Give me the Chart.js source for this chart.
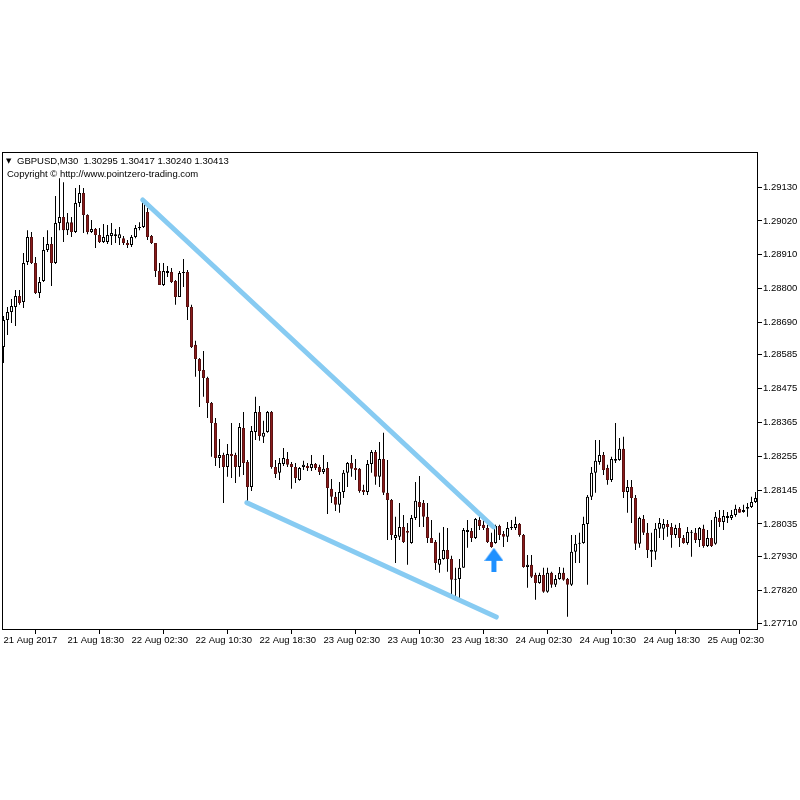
<!DOCTYPE html>
<html><head><meta charset="utf-8">
<script src="https://cdn.jsdelivr.net/npm/chart.js@4.4.1/dist/chart.umd.min.js"></script>
<style>html,body{margin:0;padding:0;background:#fff}canvas{display:block}</style>
</head><body>
<canvas id="c" width="800" height="800"></canvas>
<script>
const xTickLabels = ["21 Aug 2017","21 Aug 18:30","22 Aug 02:30","22 Aug 10:30","22 Aug 18:30","23 Aug 02:30","23 Aug 10:30","23 Aug 18:30","24 Aug 02:30","24 Aug 10:30","24 Aug 18:30","25 Aug 02:30"];
const barsPerXTick = 16;
const yTickValues = [1.29130,1.29020,1.28910,1.28800,1.28690,1.28585,1.28475,1.28365,1.28255,1.28145,1.28035,1.27930,1.27820,1.27710];

const open = [1.28610,1.28698,1.28724,1.28740,1.28776,1.28756,1.28886,1.28968,1.28883,1.28786,
1.28825,1.28925,1.28945,1.28883,1.29013,1.29033,1.28990,1.29016,1.28984,1.29078,
1.29111,1.29039,1.28984,1.28994,1.28974,1.28951,1.28951,1.28971,1.28971,1.28964,
1.28964,1.28948,1.28942,1.28968,1.28997,1.29000,1.29049,1.28971,1.28948,1.28857,
1.28812,1.28851,1.28854,1.28825,1.28773,1.28851,1.28854,1.28740,1.28617,1.28571,
1.28535,1.28509,1.28428,1.28363,1.28249,1.28259,1.28220,1.28262,1.28259,1.28220,
1.28347,1.28236,1.28155,1.28334,1.28399,1.28318,1.28334,1.28399,1.28220,1.28201,
1.28230,1.28246,1.28230,1.28220,1.28178,1.28220,1.28223,1.28217,1.28230,1.28220,
1.28204,1.28217,1.28149,1.28123,1.28097,1.28139,1.28201,1.28233,1.28217,1.28214,
1.28145,1.28139,1.28230,1.28269,1.28188,1.28246,1.28136,1.28113,1.27989,1.27993,
1.28025,1.28012,1.27973,1.28054,1.28106,1.28103,1.28058,1.27989,1.27976,1.27902,
1.27921,1.27950,1.27921,1.27853,1.27856,1.27892,1.28009,1.28012,1.27989,1.28048,
1.28032,1.28022,1.27976,1.27973,1.28028,1.28002,1.27993,1.28022,1.28022,1.28035,
1.27999,1.27895,1.27902,1.27869,1.27843,1.27869,1.27814,1.27876,1.27837,1.27856,
1.27876,1.27856,1.27837,1.27944,1.27970,1.27973,1.28035,1.28123,1.28201,1.28236,
1.28259,1.28217,1.28178,1.28240,1.28243,1.28279,1.28139,1.28155,1.28119,1.27970,
1.28051,1.28006,1.27944,1.27944,1.28019,1.28019,1.28035,1.28025,1.27999,1.28022,
1.27989,1.27973,1.28006,1.28006,1.27983,1.28019,1.27963,1.27989,1.27970,1.28054,
1.28041,1.28054,1.28054,1.28064,1.28084,1.28074,1.28084,1.28090,1.28106];

const high = [1.28711,1.28740,1.28766,1.28795,1.28795,1.28916,1.28990,1.28984,1.28903,1.28838,
1.28968,1.28990,1.28968,1.29101,1.29159,1.29146,1.29046,1.29033,1.29127,1.29137,
1.29127,1.29042,1.29023,1.28997,1.28997,1.29010,1.29007,1.29013,1.28994,1.29000,
1.28971,1.28958,1.28974,1.29007,1.29016,1.29091,1.29062,1.28974,1.28948,1.28883,
1.28883,1.28873,1.28867,1.28828,1.28857,1.28896,1.28860,1.28747,1.28630,1.28574,
1.28597,1.28513,1.28431,1.28379,1.28311,1.28266,1.28295,1.28363,1.28266,1.28363,
1.28399,1.28243,1.28353,1.28448,1.28418,1.28370,1.28402,1.28402,1.28243,1.28249,
1.28282,1.28269,1.28236,1.28233,1.28220,1.28240,1.28233,1.28259,1.28233,1.28227,
1.28259,1.28236,1.28181,1.28139,1.28171,1.28210,1.28236,1.28259,1.28246,1.28217,
1.28162,1.28243,1.28275,1.28275,1.28301,1.28331,1.28243,1.28116,1.28058,1.28103,
1.28064,1.28038,1.28064,1.28171,1.28191,1.28113,1.28103,1.28048,1.27983,1.28006,
1.28025,1.28022,1.27931,1.27892,1.27921,1.28022,1.28048,1.28022,1.28054,1.28058,
1.28048,1.28032,1.28006,1.28032,1.28032,1.28012,1.28041,1.28048,1.28058,1.28038,
1.28002,1.27934,1.27934,1.27876,1.27876,1.27892,1.27892,1.27879,1.27869,1.27895,
1.27892,1.27859,1.27999,1.27999,1.28006,1.28058,1.28129,1.28220,1.28308,1.28308,
1.28269,1.28227,1.28253,1.28363,1.28314,1.28318,1.28178,1.28178,1.28129,1.28058,
1.28064,1.28038,1.28006,1.28038,1.28054,1.28051,1.28048,1.28038,1.28032,1.28038,
1.27999,1.28025,1.28015,1.28022,1.28025,1.28032,1.28015,1.28048,1.28074,1.28080,
1.28080,1.28074,1.28080,1.28097,1.28090,1.28097,1.28103,1.28123,1.28139];

const low = [1.28558,1.28649,1.28688,1.28678,1.28747,1.28737,1.28877,1.28880,1.28782,1.28769,
1.28821,1.28919,1.28808,1.28880,1.28990,1.28951,1.28974,1.28968,1.28981,1.29065,
1.28981,1.28977,1.28981,1.28932,1.28948,1.28948,1.28945,1.28942,1.28948,1.28942,
1.28942,1.28932,1.28935,1.28964,1.28990,1.28997,1.28958,1.28945,1.28838,1.28812,
1.28808,1.28838,1.28818,1.28747,1.28773,1.28805,1.28698,1.28607,1.28513,1.28415,
1.28448,1.28379,1.28253,1.28223,1.28217,1.28103,1.28188,1.28184,1.28168,1.28188,
1.28194,1.28103,1.28142,1.28308,1.28305,1.28298,1.28331,1.28214,1.28184,1.28178,
1.28223,1.28220,1.28149,1.28168,1.28175,1.28210,1.28207,1.28207,1.28210,1.28194,
1.28197,1.28067,1.28103,1.28077,1.28071,1.28119,1.28155,1.28188,1.28178,1.28136,
1.28129,1.28129,1.28201,1.28162,1.28155,1.28129,1.27983,1.27983,1.27908,1.27983,
1.27973,1.27902,1.27970,1.28048,1.28025,1.28025,1.27973,1.27973,1.27885,1.27876,
1.27918,1.27879,1.27798,1.27794,1.27794,1.27892,1.27957,1.27976,1.27986,1.28015,
1.28015,1.27973,1.27957,1.27970,1.27983,1.27960,1.27976,1.28015,1.28015,1.27993,
1.27892,1.27827,1.27859,1.27788,1.27840,1.27811,1.27811,1.27827,1.27830,1.27853,
1.27850,1.27733,1.27833,1.27908,1.27908,1.27970,1.27837,1.28113,1.28136,1.28227,
1.28194,1.28162,1.28171,1.28233,1.28240,1.28119,1.28071,1.28038,1.27950,1.27957,
1.27999,1.27924,1.27895,1.27918,1.27989,1.27983,1.27993,1.27957,1.27989,1.27960,
1.27970,1.27967,1.27928,1.27973,1.27960,1.27957,1.27960,1.27960,1.27967,1.28025,
1.28015,1.28038,1.28048,1.28058,1.28071,1.28071,1.28058,1.28087,1.28103];

const close = [1.28698,1.28724,1.28743,1.28776,1.28753,1.28883,1.28968,1.28883,1.28786,1.28821,
1.28925,1.28945,1.28883,1.29013,1.29033,1.28990,1.29016,1.28984,1.29078,1.29111,
1.29039,1.28984,1.28994,1.28974,1.28951,1.28968,1.28974,1.28981,1.28977,1.28977,
1.28948,1.28942,1.28968,1.28997,1.29000,1.29081,1.28968,1.28948,1.28857,1.28812,
1.28857,1.28857,1.28821,1.28773,1.28851,1.28854,1.28740,1.28610,1.28571,1.28532,
1.28509,1.28428,1.28363,1.28249,1.28259,1.28220,1.28262,1.28256,1.28220,1.28350,
1.28233,1.28155,1.28337,1.28399,1.28321,1.28331,1.28399,1.28220,1.28197,1.28233,
1.28249,1.28227,1.28220,1.28184,1.28217,1.28227,1.28217,1.28230,1.28217,1.28204,
1.28214,1.28152,1.28123,1.28097,1.28139,1.28201,1.28233,1.28214,1.28210,1.28142,
1.28139,1.28230,1.28269,1.28188,1.28246,1.28136,1.28113,1.27999,1.27999,1.28025,
1.27976,1.28006,1.28054,1.28110,1.28090,1.28058,1.27989,1.27973,1.27908,1.27921,
1.27950,1.27921,1.27853,1.27856,1.27892,1.28015,1.28015,1.27989,1.28051,1.28028,
1.28022,1.27976,1.27960,1.28028,1.27999,1.27993,1.28022,1.28025,1.28035,1.27999,
1.27895,1.27902,1.27863,1.27843,1.27869,1.27814,1.27876,1.27837,1.27856,1.27876,
1.27853,1.27837,1.27944,1.27970,1.27973,1.28035,1.28123,1.28201,1.28240,1.28259,
1.28210,1.28178,1.28246,1.28246,1.28279,1.28139,1.28155,1.28119,1.27970,1.28054,
1.28006,1.27950,1.27950,1.28019,1.28038,1.28035,1.28025,1.27999,1.28022,1.27989,
1.27973,1.28009,1.28009,1.27983,1.28022,1.27963,1.27989,1.27963,1.28058,1.28041,
1.28061,1.28061,1.28064,1.28084,1.28071,1.28080,1.28090,1.28106,1.28119];

// trend lines drawn on the chart: [bar index, price]
const upperTrend = [[34.8, 1.29088], [122.5, 1.28025]];
const lowerTrend = [[60.85, 1.28104], [123.2, 1.27732]];
const signalArrow = [122.6, 1.27918];

const symbolText = "GBPUSD,M30  1.30295 1.30417 1.30240 1.30413";
const copyrightText = "Copyright \u00A9 http://www.pointzero-trading.com";

const BEAR = '#8b1a1a';
const BEAR_EDGE = '#5a1212';
const BULL = '#ffffff';
const BULL_EDGE = '#000000';
const TREND = '#87cbf2';
const idx = open.map((_, i) => i);
const isBear = open.map((o, i) => close[i] < o);
const bodyColors = isBear.map(b => b ? BEAR : BULL);
const edgeColors = isBear.map(b => b ? BEAR_EDGE : BULL_EDGE);

// arrow glyph used as point style
const arrowImg = document.createElement('canvas');
arrowImg.width = 19; arrowImg.height = 24;
(function(){
  const g = arrowImg.getContext('2d');
  g.fillStyle = '#1e90ff';
  g.beginPath(); g.moveTo(0, 13); g.lineTo(9.5, 0); g.lineTo(19, 13); g.closePath(); g.fill();
  g.fillRect(7, 12, 5, 12);
})();

const framePlugin = {
  id: 'frame',
  afterDraw(chart) {
    const {ctx, chartArea: a} = chart;
    ctx.save();
    ctx.strokeStyle = '#000';
    ctx.lineWidth = 1;
    ctx.strokeRect(a.left + 0.5, a.top + 0.5, a.right - a.left - 1, a.bottom - a.top - 1);
    ctx.fillStyle = '#000';
    ctx.textBaseline = 'alphabetic';
    ctx.font = '7px "DejaVu Sans"';
    ctx.fillText('\u25BC', 6, 163);
    ctx.font = '9.5px "Liberation Sans"';
    ctx.fillText(symbolText, 17, 163.5);
    ctx.fillText(copyrightText, 7, 177);
    ctx.restore();
  }
};

const tickFont = {family: 'Liberation Sans', size: 9.5};

new Chart(document.getElementById('c'), {
  type: 'bar',
  data: {
    datasets: [
      {type: 'line', data: upperTrend.map(p => ({x: p[0], y: p[1]})), borderColor: TREND, borderWidth: 5,
       borderCapStyle: 'round', pointRadius: 0, order: -2},
      {type: 'line', data: lowerTrend.map(p => ({x: p[0], y: p[1]})), borderColor: TREND, borderWidth: 5,
       borderCapStyle: 'round', pointRadius: 0, order: -2},
      {type: 'line', showLine: false, data: [{x: signalArrow[0], y: signalArrow[1]}], pointStyle: arrowImg,
       pointRadius: 5, order: -3},
      {type: 'bar', data: idx.map(i => ({x: i, y: [open[i], close[i]]})), backgroundColor: bodyColors,
       borderColor: edgeColors, borderWidth: 1, borderSkipped: false, grouped: false, barPercentage: 1,
       categoryPercentage: 1, maxBarThickness: 3, minBarLength: 1, inflateAmount: 0, order: 0},
      {type: 'bar', data: idx.map(i => ({x: i, y: [low[i], high[i]]})), backgroundColor: '#000',
       borderWidth: 0, grouped: false, barPercentage: 1, categoryPercentage: 1, maxBarThickness: 1,
       inflateAmount: 0, order: 1}
    ]
  },
  options: {
    responsive: false,
    animation: false,
    events: [],
    layout: {autoPadding: false, padding: {top: 152, left: 2, right: 0, bottom: 150}},
    plugins: {legend: {display: false}, tooltip: {enabled: false}},
    scales: {
      x: {
        type: 'linear', min: -0.375, max: 188.625, offset: false, position: 'bottom',
        grid: {display: true, drawOnChartArea: false, drawTicks: true, tickLength: 4, color: '#000'},
        border: {display: false},
        ticks: {align: 'start', maxRotation: 0, minRotation: 0, autoSkip: false, padding: 1, color: '#000', font: tickFont,
          callback: (v) => xTickLabels[Math.round(v / barsPerXTick)] ?? ''},
        afterBuildTicks: (s) => { s.ticks = xTickLabels.map((_, k) => ({value: k * barsPerXTick})); },
        afterFit: (s) => { s.height = 20; s.paddingLeft = 0; s.paddingRight = 0; }
      },
      y: {
        type: 'linear', position: 'right', min: 1.27690, max: 1.29244,
        grid: {display: true, drawOnChartArea: false, drawTicks: true, tickLength: 4, color: '#000'},
        border: {display: false},
        ticks: {padding: 1, color: '#000', font: tickFont, callback: (v) => Number(v).toFixed(5)},
        afterBuildTicks: (s) => { s.ticks = yTickValues.map(v => ({value: v})); },
        afterFit: (s) => { s.width = 42; s.paddingTop = 0; s.paddingBottom = 0; }
      }
    }
  },
  plugins: [framePlugin]
});
</script>
</body></html>
